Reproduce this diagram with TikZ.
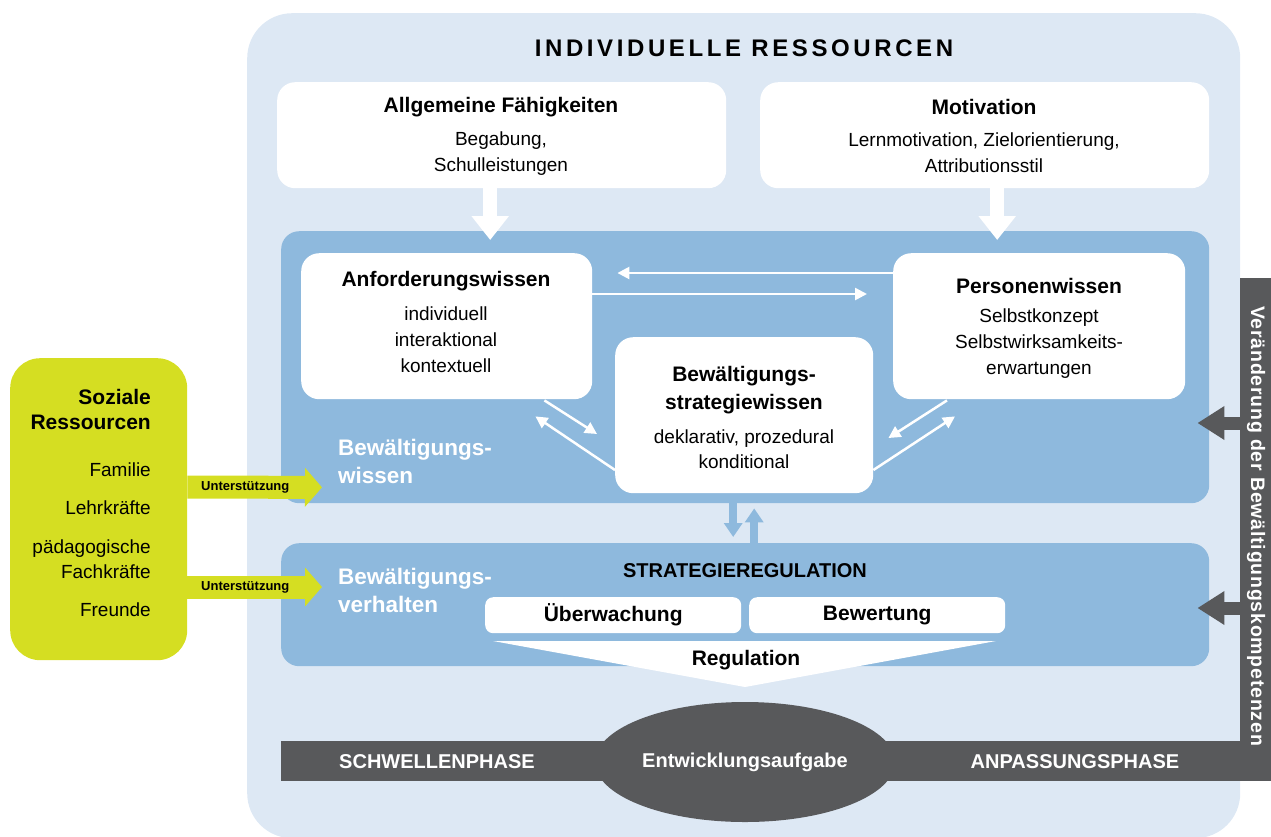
\documentclass[tikz,border=0pt]{standalone}
\usepackage{fontspec}
\setmainfont{Liberation Sans}
\usetikzlibrary{arrows.meta,calc,shapes.geometric}
\definecolor{lightbg}{HTML}{DDE8F4}
\definecolor{midblue}{HTML}{8EB9DD}
\definecolor{darkgr}{HTML}{58595B}
\definecolor{limeg}{HTML}{D5DE22}
\tikzset{
  wbox/.style={fill=white, rounded corners=18pt, inner sep=0pt, draw=none, anchor=north west},
  bbox/.style={fill=midblue, rounded corners=18pt, inner sep=0pt, draw=none, anchor=north west},
  ttl/.style={font=\fontsize{21}{28}\selectfont\bfseries, inner sep=0pt, align=center},
  body/.style={font=\fontsize{19}{26}\selectfont, inner sep=0pt, align=center},
  wlabel/.style={font=\fontsize{22.5}{28}\selectfont\bfseries, text=white, inner sep=0pt, align=left, anchor=west},
  glabel/.style={font=\fontsize{19}{25}\selectfont, inner sep=0pt, align=right, anchor=east},
  phase/.style={font=\fontsize{20}{24}\selectfont\bfseries, text=white, inner sep=0pt},
  blockw/.style={draw=white, line width=14pt, -{Triangle[width=36pt,length=24pt]}},
  thinw/.style={draw=white, line width=2.5pt, -{Triangle[width=12pt,length=12pt]}},
  smallb/.style={draw=midblue, line width=8pt, -{Triangle[width=18pt,length=14pt]}},
  greenarr/.style={draw=limeg, line width=23pt, -{Triangle[width=38pt,length=17pt]}},
  grayarr/.style={draw=darkgr, line width=13pt, -{Triangle[width=32pt,length=27pt]}},
  unt/.style={font=\fontsize{13}{15}\selectfont\bfseries, text=black, inner sep=0pt}
}
\begin{document}
\begin{tikzpicture}[x=1pt,y=-1pt]
\useasboundingbox (0,0) rectangle (1271,836);
% outer light box
\node[fill=lightbg, rounded corners=45pt, inner sep=0pt, anchor=north west, minimum width=993pt, minimum height=825pt] (outer) at (247,13) {};
\node[font=\fontsize{24}{28}\selectfont\bfseries\addfontfeature{LetterSpace=15}, inner sep=0pt] (title) at (744,48) {INDIVIDUELLE RESSOURCEN};

% top boxes
\node[wbox, minimum width=449pt, minimum height=106pt] (allg) at (277,82) {};
\node[wbox, minimum width=449pt, minimum height=106pt] (motiv) at (760,82) {};
\node[ttl] (allgT) at (501,107) {Allgemeine Fähigkeiten};
\node[body] (allgB) at (501,153.5) {Begabung,\\Schulleistungen};
\node[ttl] (motivT) at (984,107) {Motivation};
\node[body] (motivB) at (984,153) {Lernmotivation, Zielorientierung,\\Attributionsstil};

% blue boxes
\node[bbox, minimum width=928pt, minimum height=272pt] (wissen) at (281,231) {};
\node[bbox, minimum width=928pt, minimum height=123pt] (verh) at (281,543) {};

% block arrows down
\draw[blockw] ($(allg.south)+(-11.5,0)$) -- ($(allg.south |- wissen.north)+(-11.5,9)$);
\draw[blockw] ($(motiv.south)+(12.5,0)$) -- ($(motiv.south |- wissen.north)+(12.5,9)$);

% inner white boxes
\node[wbox, minimum width=291pt, minimum height=146pt] (anf) at (301,253) {};
\node[wbox, minimum width=292pt, minimum height=146pt] (pers) at (893,253) {};
\node[wbox, minimum width=258pt, minimum height=156pt] (strat) at (615,337) {};

\node[ttl] (anfT) at (446,281) {Anforderungswissen};
\node[body] (anfB) at (446,340) {individuell\\interaktional\\kontextuell};
\node[ttl] (persT) at (1039,286) {Personenwissen};
\node[body] (persB) at (1039,344) {Selbstkonzept\\Selbstwirksamkeits-\\erwartungen};
\node[ttl] (stratT) at (744,390) {Bewältigungs-\\strategiewissen};
\node[body, font=\fontsize{19}{25}\selectfont] (stratB) at (744,449.5) {deklarativ, prozedural\\konditional};

% thin white arrows
\draw[thinw] ($(pers.north west)+(0,20)$) -- ($(anf.north east)+(25,20)$);
\draw[thinw] ($(anf.north east)+(0,41)$) -- ($(pers.north west)+(-26,41)$);
\draw[thinw] ($(anf.south east)+(-48,1)$) -- ($(strat.north west)+(-18,97)$);
\draw[thinw] ($(strat.north west)+(0,133)$) -- ($(anf.south east)+(-57,17)$);
\draw[thinw] ($(pers.south west)+(54,1)$) -- ($(strat.north east)+(15,101)$);
\draw[thinw] ($(strat.north east)+(0,133)$) -- ($(pers.south west)+(62,17)$);

% white labels
\node[wlabel] (wl1) at (338,461) {Bewältigungs-\\wissen};
\node[wlabel] (wl2) at (338,590) {Bewältigungs-\\verhalten};

% small blue arrows
\draw[smallb] ($(wissen.south -| strat.south)+(-11,0)$) -- ($(verh.north -| strat.south)+(-11,-6)$);
\draw[smallb] ($(verh.north -| strat.south)+(10,0)$) -- ($(wissen.south -| strat.south)+(10,5)$);

% strategieregulation
\node[ttl, font=\fontsize{20}{24}\selectfont\bfseries] (sr) at (745,571) {STRATEGIEREGULATION};
\node[wbox, rounded corners=8pt, minimum width=256pt, minimum height=36pt] (ueb) at (485,597) {};
\node[wbox, rounded corners=8pt, minimum width=256pt, minimum height=36pt] (bew) at (749,597) {};
\node[ttl] (uebT) at (ueb.center) {Überwachung};
\node[ttl] (bewT) at (bew.center) {Bewertung};
\fill[white] (493,641) -- (996,641) -- (745,687) -- cycle;
\node[ttl] (reg) at (746,660) {Regulation};

% gray bars
\fill[darkgr] (281,741) rectangle (1271,781);
\node[fill=darkgr, inner sep=0pt, anchor=north west, minimum width=31pt, minimum height=503pt] (vbar) at (1240,278) {};
\node[fill=darkgr, ellipse, inner sep=0pt, minimum width=300pt, minimum height=120pt] (ell) at (745,762) {};
\node[phase] (p1) at (437,762) {SCHWELLENPHASE};
\node[phase] (p2) at (ell.center) {Entwicklungsaufgabe};
\node[phase] (p3) at (1075,762) {ANPASSUNGSPHASE};
\node[phase, rotate=-90, font=\fontsize{19.5}{24}\selectfont\bfseries\addfontfeature{LetterSpace=4}] (vtext) at (1256,526) {Veränderung der Bewältigungskompetenzen};

% gray arrows
\draw[grayarr] ($(vbar.north west)+(0,145)$) -- ($(wissen.north east)+(-12,192)$);
\draw[grayarr] ($(vbar.north west)+(0,330)$) -- ($(verh.north east)+(-12,65)$);

% green box
\node[fill=limeg, rounded corners=30pt, inner sep=0pt, anchor=north west, minimum width=177pt, minimum height=302pt] (soz) at (10,358) {};
\node[glabel, font=\fontsize{21}{25}\selectfont\bfseries] (sozT) at (151,409.5) {Soziale\\Ressourcen};
\node[glabel] (g1) at (151,470) {Familie};
\node[glabel] (g2) at (151,508) {Lehrkräfte};
\node[glabel] (g3) at (151,559.5) {pädagogische\\Fachkräfte};
\node[glabel] (g4) at (151,610) {Freunde};

% green arrows
\draw[greenarr] ($(soz.north east)+(0,129)$) -- node[unt, pos=0.43] (u1) {Unterstützung} ($(wissen.south west)+(41,-16)$);
\draw[greenarr] ($(soz.north east)+(0,229)$) -- node[unt, pos=0.43] (u2) {Unterstützung} ($(verh.north west)+(41,44)$);
\end{tikzpicture}
\end{document}
